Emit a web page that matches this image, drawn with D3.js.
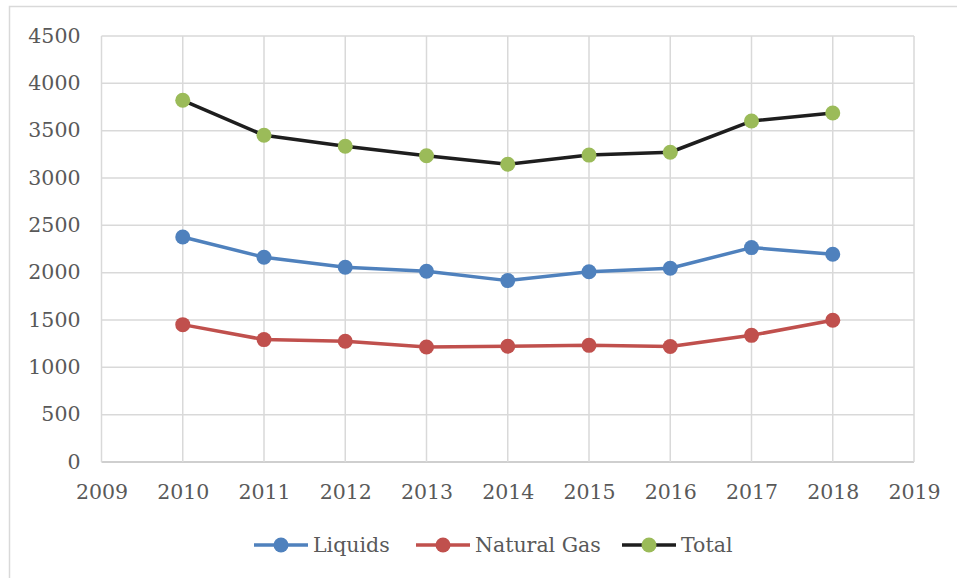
<!DOCTYPE html>
<html>
<head>
<meta charset="utf-8">
<script src="https://cdn.jsdelivr.net/npm/d3@7"></script>
<style>
  body { margin: 0; background: #fff; }
  svg text { font-family: "DejaVu Serif", serif; fill: #595959; }
</style>
</head>
<body>
<div id="container"></div>
<script>
// chart data
var years = [2010, 2011, 2012, 2013, 2014, 2015, 2016, 2017, 2018];
var liquids = [2377, 2163, 2057, 2015, 1916, 2009, 2046, 2265, 2194];
var naturalGas = [1451, 1293, 1276, 1215, 1222, 1232, 1220, 1338, 1497];
var total = [3821, 3451, 3335, 3235, 3145, 3242, 3272, 3602, 3687];
var yTicks = [0, 500, 1000, 1500, 2000, 2500, 3000, 3500, 4000, 4500];
var xTicks = [2009, 2010, 2011, 2012, 2013, 2014, 2015, 2016, 2017, 2018, 2019];

var series = [
  {name: "Liquids", values: liquids, line: "#4F81BD", marker: "#4F81BD"},
  {name: "Natural Gas", values: naturalGas, line: "#C0504D", marker: "#C0504D"},
  {name: "Total", values: total, line: "#1e1e1e", marker: "#9BBB59"}
];

(function(){
    var width = 957, height = 578;
    var left = 101.5, right = 914, top = 36, bottom = 462;

    var svg = d3.select("#container")
        .append("svg")
        .attr("width", width)
        .attr("height", height);

    //outer chart frame
    svg.append("path")
        .attr("d", "M9.5,578 V6.5 H957")
        .attr("fill", "none")
        .attr("stroke", "#d9d9d9")
        .attr("stroke-width", 1.5);

    var x = d3.scaleLinear().domain([2009, 2019]).range([left, right]);
    var y = d3.scaleLinear().domain([0, 4500]).range([bottom, top]);

    //gridlines
    svg.append("g")
        .selectAll("line.h")
        .data(yTicks)
        .enter().append("line")
        .attr("x1", left).attr("x2", right)
        .attr("y1", function(d){ return y(d); })
        .attr("y2", function(d){ return y(d); })
        .attr("stroke", function(d){ return d === 0 ? "#bfbfbf" : "#d9d9d9"; })
        .attr("stroke-width", 1.5);

    svg.append("g")
        .selectAll("line.v")
        .data(xTicks)
        .enter().append("line")
        .attr("y1", top).attr("y2", bottom)
        .attr("x1", function(d){ return x(d); })
        .attr("x2", function(d){ return x(d); })
        .attr("stroke", "#d9d9d9")
        .attr("stroke-width", 1.5);

    //axes (labels only)
    var yAxis = svg.append("g")
        .attr("transform", "translate(" + (left - 21) + ",0)")
        .call(d3.axisLeft(y).tickValues(yTicks).tickSize(0).tickPadding(0).tickFormat(d3.format("d")));
    yAxis.select(".domain").remove();
    yAxis.selectAll("text").style("font-size", "20.5px").attr("dy", "0.3em");

    var xAxis = svg.append("g")
        .attr("transform", "translate(0," + (bottom + 22) + ")")
        .call(d3.axisBottom(x).tickValues(xTicks).tickSize(0).tickPadding(0).tickFormat(d3.format("d")));
    xAxis.select(".domain").remove();
    xAxis.selectAll("text").style("font-size", "20.5px").attr("dy", "0.71em");

    //lines and markers
    var line = d3.line()
        .x(function(d, i){ return x(years[i]); })
        .y(function(d){ return y(d); });

    series.forEach(function(s){
        svg.append("path")
            .datum(s.values)
            .attr("d", line)
            .attr("fill", "none")
            .attr("stroke", s.line)
            .attr("stroke-width", 3.5)
            .attr("stroke-linejoin", "round");
        svg.append("g")
            .selectAll("circle")
            .data(s.values)
            .enter().append("circle")
            .attr("cx", function(d, i){ return x(years[i]); })
            .attr("cy", function(d){ return y(d); })
            .attr("r", 7.5)
            .attr("fill", s.marker);
    });

    //legend
    var legendX = [254, 416, 622];
    var legend = svg.append("g").attr("transform", "translate(0,545)");
    series.forEach(function(s, i){
        var g = legend.append("g").attr("transform", "translate(" + legendX[i] + ",0)");
        g.append("line")
            .attr("x1", 0).attr("x2", 54)
            .attr("stroke", s.line).attr("stroke-width", 3.5);
        g.append("circle").attr("cx", 27).attr("r", 7.5).attr("fill", s.marker);
        g.append("text")
            .attr("x", 59)
            .attr("dy", "0.35em")
            .style("font-size", "20.5px")
            .text(s.name);
    });
})();
</script>
</body>
</html>
